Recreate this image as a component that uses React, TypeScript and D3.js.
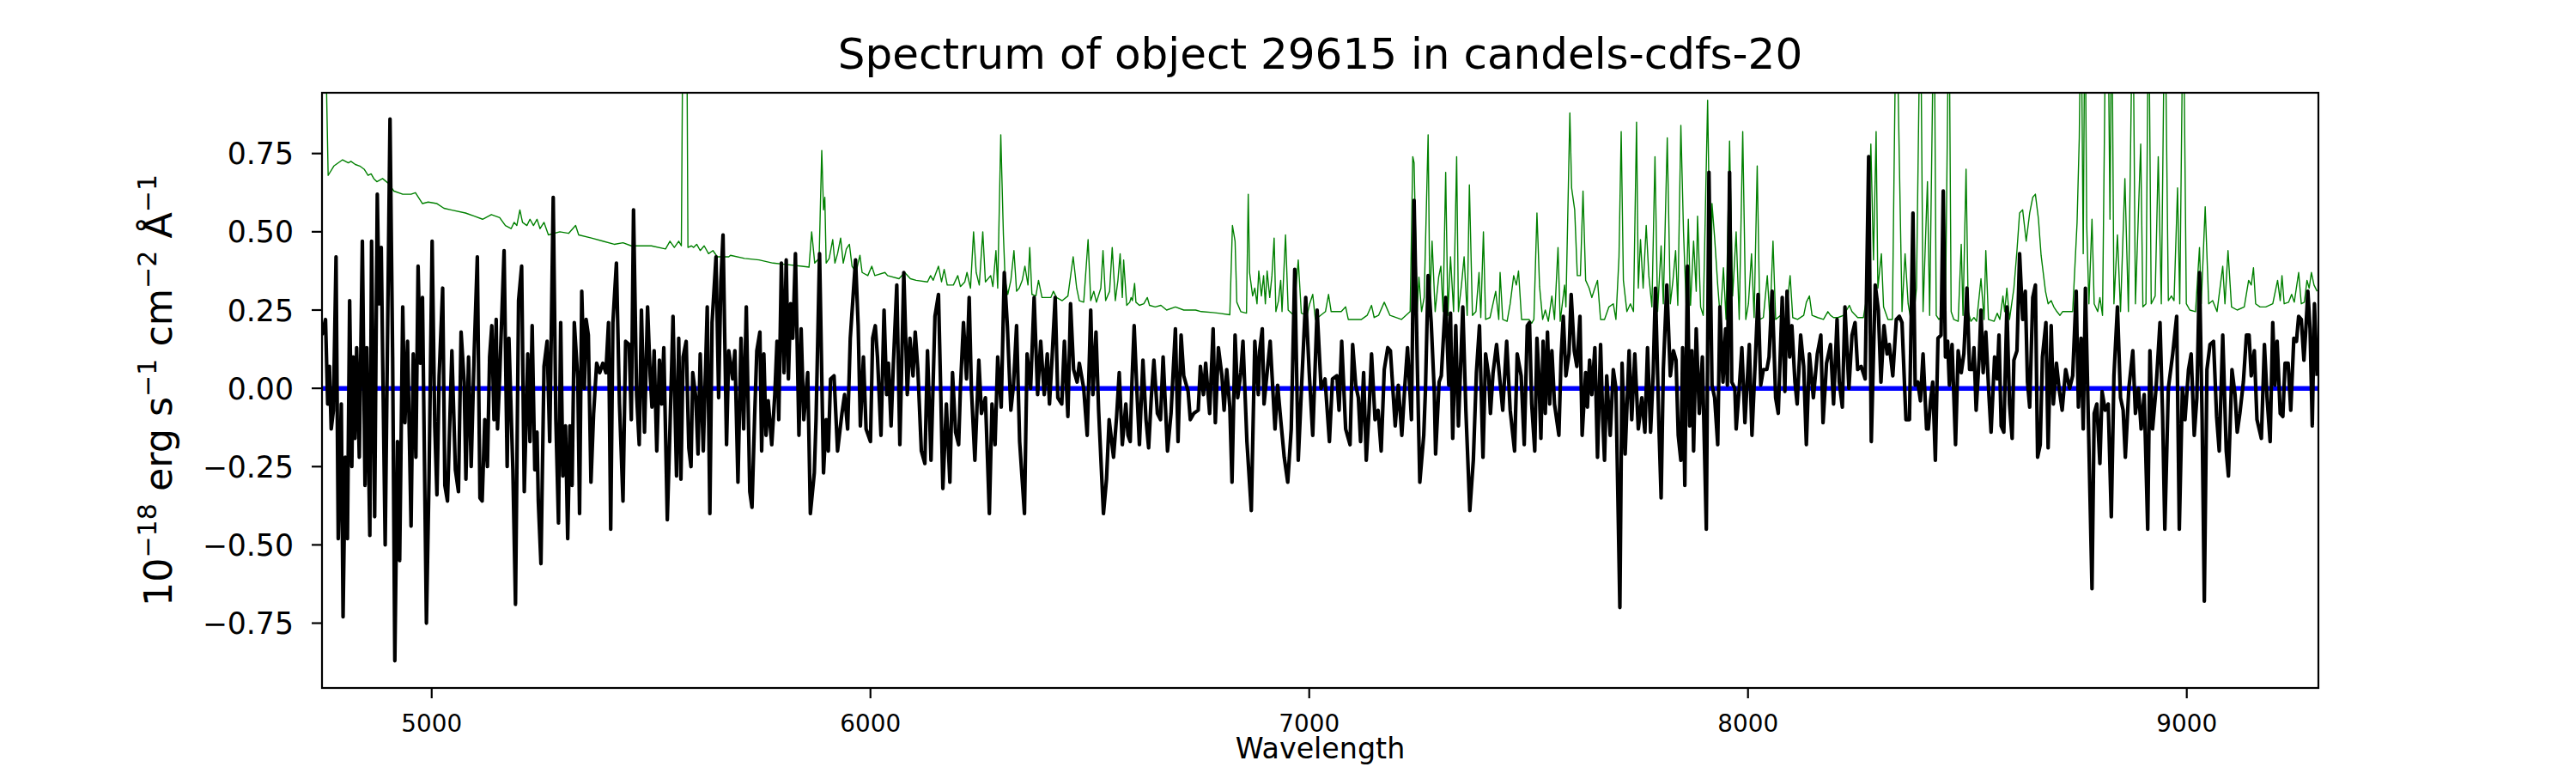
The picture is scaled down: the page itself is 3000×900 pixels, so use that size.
import React from "react";
import * as d3 from "d3";

// Flux spectrum (black) in wavelength chunks
const fluxBlue: [number, number][] = [
  [4750,0.17],[4758,0.22],[4763,-0.05],[4767,0.07],[4771,-0.13],[4776,-0.07],[4782,0.42],[4787,-0.48],[4794,-0.05],[4798,-0.73],
  [4803,-0.22],[4808,-0.48],[4813,0.28],[4818,-0.25],[4821,0.10],[4825,-0.16],[4829,0.13],[4835,-0.22],[4842,0.47],[4848,-0.31],
  [4852,0.13],[4859,-0.47],[4863,0.47],[4870,-0.41],[4876,0.62],[4880,0.27],[4885,0.45],[4889,0.02],[4894,-0.50],[4905,0.86],
  [4911,0.10],[4916,-0.87],[4922,-0.17],[4927,-0.55],[4934,0.26],[4939,-0.11],[4945,0.15],[4953,-0.44],[4958,0.11],[4964,-0.22],
  [4969,0.39],[4974,0.08],[4979,0.29],[4988,-0.75],[4994,-0.28],[5001,0.47],[5007,-0.12],[5012,-0.34],[5017,0.04],[5025,0.32],
  [5030,-0.31],[5036,-0.36],[5046,0.12],[5054,-0.26],[5061,-0.33],[5067,0.18],[5074,0.02],[5078,-0.29],[5084,0.10],[5090,-0.25],
  [5097,0.12],[5104,0.42],[5110,-0.35],[5115,-0.36],[5121,-0.10],[5127,-0.25],[5132,0.10],[5137,0.20],[5142,-0.10],[5147,0.22],
  [5150,-0.13],[5155,0.04],[5165,0.44],[5172,-0.25],[5176,0.16],[5185,-0.26],[5191,-0.69],[5198,0.28],[5205,0.39],[5211,-0.33],
  [5219,0.11],[5224,-0.17],[5229,0.20],[5235,-0.26],[5240,-0.14],[5243,-0.36],[5249,-0.56],[5256,0.07],[5263,0.15],[5269,-0.17],
  [5277,0.61],[5283,-0.10],[5289,-0.43],[5294,0.21],[5299,-0.28],[5305,-0.12],[5310,-0.48],[5315,-0.12],[5320,-0.31],[5325,0.21],
  [5333,0.03],[5337,-0.40],[5342,0.31],[5348,0.00],[5352,0.22],[5357,0.17],[5363,-0.30],[5369,-0.08],[5376,0.08],[5383,0.05],
  [5390,0.08],[5397,0.05],[5403,0.21],[5408,-0.45],[5413,0.21],[5421,0.40],[5428,-0.05],[5436,-0.36],[5442,0.15],[5450,0.14],
  [5455,-0.10],[5460,0.57],[5467,-0.02],[5473,-0.18],[5478,0.25],[5485,-0.14],[5492,0.26],[5498,0.04],[5502,-0.06],[5507,0.12],
  [5513,-0.20],[5519,0.09],[5524,-0.05],[5529,0.13],[5537,-0.42],[5543,-0.13],[5550,0.23],[5558,-0.28],[5563,0.16],[5568,-0.29],
  [5573,0.10],[5580,0.15],[5586,-0.19],[5591,-0.25],[5595,0.05],[5602,-0.03],[5607,-0.21],[5612,0.11],[5619,-0.20],[5628,0.26],
  [5634,-0.40],[5639,0.21],[5648,0.42],[5654,-0.03],[5659,0.34],[5664,0.49],[5672,-0.18],[5677,0.12],
];

const fluxGreen: [number, number][] = [
  [5686,0.03],[5691,0.12],[5698,-0.30],[5705,0.16],[5711,-0.13],[5717,0.26],[5725,-0.33],[5730,-0.38],[5736,-0.09],[5741,0.12],
  [5748,0.18],[5752,-0.20],[5757,0.11],[5762,-0.15],[5767,-0.04],[5775,-0.18],[5782,-0.02],[5787,0.15],[5791,-0.10],[5797,0.40],
  [5803,0.05],[5808,0.41],[5813,0.03],[5818,0.27],[5823,0.16],[5829,0.43],[5837,-0.15],[5842,0.19],[5848,-0.10],[5857,0.05],
  [5863,-0.40],[5872,-0.27],[5876,-0.10],[5884,0.43],[5893,-0.27],[5899,-0.10],[5904,-0.20],[5909,0.03],[5917,0.04],[5925,-0.20],
  [5935,-0.08],[5941,-0.02],[5948,-0.13],[5954,0.16],[5966,0.41],[5972,0.20],[5977,-0.12],[5984,0.10],[5990,-0.13],[6000,-0.17],
  [6005,0.16],[6011,0.20],[6016,0.10],[6024,-0.15],[6031,0.25],[6037,-0.02],[6041,0.08],[6047,-0.12],[6052,0.07],[6060,0.33],
  [6067,-0.18],[6076,0.37],[6084,-0.02],[6090,0.16],[6097,0.04],[6102,0.18],[6108,0.06],[6116,-0.20],[6124,-0.24],[6130,0.12],
  [6138,-0.23],[6147,0.23],[6155,0.30],[6160,0.00],[6165,-0.32],[6173,-0.05],[6181,-0.30],[6187,0.05],[6194,-0.14],[6201,-0.18],
  [6205,0.00],[6212,0.21],[6219,0.03],[6225,0.29],[6230,0.00],[6238,-0.23],[6247,0.09],[6253,-0.08],[6262,-0.03],[6271,-0.40],
  [6277,-0.05],[6284,-0.18],[6290,0.10],[6298,-0.06],[6305,0.37],[6312,0.20],[6320,-0.07],[6326,0.01],[6333,0.20],[6340,-0.17],
  [6351,-0.40],[6357,0.11],[6365,0.00],[6373,0.29],[6381,-0.02],[6388,0.15],[6396,-0.02],[6403,0.11],[6408,-0.05],[6414,0.10],
  [6421,0.29],[6427,-0.03],[6436,-0.05],[6442,0.15],[6450,-0.09],[6456,0.27],[6463,0.06],[6471,0.02],[6476,0.08],[6486,0.00],
  [6494,-0.15],[6502,0.25],[6507,-0.02],[6514,0.18],[6520,-0.07],[6531,-0.40],[6538,-0.29],[6544,-0.10],[6554,-0.22],[6561,-0.09],
  [6567,0.05],[6574,-0.18],[6582,-0.05],[6587,-0.15],
];

const fluxYellow: [number, number][] = [
  [6592,-0.17],[6596,0.02],[6601,0.20],[6607,0.00],[6613,-0.18],[6621,0.09],[6628,-0.10],[6634,-0.19],[6640,-0.03],[6646,0.09],
  [6654,-0.08],[6661,-0.10],[6667,0.10],[6677,-0.20],[6685,-0.08],[6695,0.19],[6701,-0.17],[6708,0.17],[6714,0.04],[6724,-0.01],
  [6729,-0.10],[6737,-0.08],[6747,-0.07],[6752,0.07],[6759,-0.02],[6764,0.08],[6773,-0.08],[6781,0.19],[6786,-0.11],[6793,0.13],
  [6801,0.04],[6806,-0.07],[6812,0.06],[6819,-0.06],[6824,-0.30],[6831,0.17],[6837,-0.03],[6844,0.05],[6849,0.15],[6858,-0.17],
  [6868,-0.39],[6876,0.15],[6884,-0.02],[6887,0.12],[6893,0.19],[6897,-0.05],[6904,0.05],[6911,0.15],[6922,-0.13],[6928,0.01],
  [6935,-0.10],[6943,-0.22],[6951,-0.30],[6959,-0.13],[6967,0.38],[6975,-0.23],[6983,0.02],[6992,0.29],[7000,0.05],[7008,-0.15],
  [7018,0.25],[7027,0.00],[7036,0.03],[7046,-0.17],[7053,0.03],[7063,0.04],[7068,-0.07],[7074,0.15],[7083,-0.13],[7093,-0.18],
  [7099,0.14],[7106,0.01],[7112,-0.03],[7117,-0.17],[7124,0.05],[7130,-0.23],[7136,-0.08],[7142,0.11],[7150,-0.10],[7157,-0.07],
  [7164,-0.20],[7171,0.06],[7179,0.13],[7185,0.12],[7196,-0.12],[7203,0.01],[7211,-0.15],[7218,0.01],[7224,0.13],[7233,-0.10],
  [7239,0.60],[7246,0.10],[7252,-0.30],[7261,-0.15],[7265,0.00],[7271,0.36],[7278,0.21],[7285,-0.01],[7288,-0.21],[7296,0.02],
  [7301,0.04],[7311,0.29],[7318,0.01],[7322,0.24],[7327,-0.16],[7334,0.20],[7340,-0.12],[7350,0.26],[7357,-0.07],[7366,-0.39],
  [7374,-0.23],[7381,0.05],[7388,0.20],[7396,-0.22],[7402,0.11],[7409,0.04],[7413,-0.08],[7419,0.05],[7427,0.14],[7435,0.02],
  [7441,-0.07],[7450,0.15],[7458,-0.07],[7468,-0.20],[7474,0.11],[7483,0.04],[7490,-0.18],[7497,0.20],
];

const fluxRed: [number, number][] = [
  [7502,0.21],[7507,-0.05],[7514,-0.20],[7519,0.16],[7523,0.05],[7528,-0.16],[7533,0.15],[7538,-0.08],[7543,0.18],[7548,-0.05],
  [7553,0.12],[7559,-0.05],[7569,-0.15],[7574,0.10],[7579,0.23],[7585,0.04],[7592,0.11],[7597,0.30],[7604,0.12],[7610,0.07],
  [7617,0.23],[7622,-0.15],[7630,0.05],[7634,-0.06],[7639,0.09],[7644,-0.02],[7651,0.13],[7657,-0.22],[7664,0.14],[7669,-0.10],
  [7673,-0.23],[7678,0.04],[7686,-0.15],[7693,0.06],[7699,0.00],[7708,-0.70],[7713,0.08],[7720,-0.21],[7729,0.12],[7735,-0.10],
  [7742,0.11],[7750,-0.13],[7758,-0.03],[7765,-0.14],[7771,0.13],[7778,-0.14],[7784,0.05],[7789,0.32],[7797,-0.12],[7802,-0.35],
  [7807,0.06],[7815,0.33],[7823,0.04],[7830,0.12],[7836,0.09],[7841,-0.15],[7847,-0.23],[7851,0.13],[7856,-0.31],[7862,0.39],
  [7867,-0.12],[7872,0.12],[7876,-0.20],[7882,0.19],[7889,-0.08],[7896,0.10],[7905,-0.45],[7911,0.69],[7918,0.01],[7924,-0.03],
  [7931,-0.18],[7936,0.26],[7943,0.02],[7949,0.19],[7953,0.01],[7958,0.69],[7963,0.02],[7970,0.00],[7973,-0.13],[7980,0.00],
  [7986,0.13],[7993,-0.11],[8003,0.14],[8009,-0.15],[8016,0.07],[8023,0.30],[8029,0.01],[8035,0.06],[8043,0.06],[8048,0.10],
  [8055,0.31],[8063,-0.03],[8069,-0.08],[8078,0.29],[8084,-0.01],[8089,0.31],[8095,0.10],[8100,0.20],[8107,0.02],[8112,-0.05],
  [8120,0.17],[8127,0.07],[8133,-0.18],[8140,0.11],[8149,-0.03],[8158,0.11],[8166,0.17],[8171,-0.11],[8179,0.08],[8188,0.14],
  [8195,-0.05],[8203,0.22],[8208,0.02],[8215,-0.06],[8221,0.26],[8230,0.00],[8237,0.17],[8244,0.21],[8250,0.06],[8258,0.07],
  [8267,0.03],[8275,0.74],[8281,-0.17],[8290,0.33],[8297,0.25],[8303,0.02],[8310,0.20],[8317,0.11],[8322,0.14],[8330,0.04],
  [8338,0.22],[8345,0.23],[8351,0.21],[8360,-0.10],[8368,-0.10],[8376,0.56],[8381,0.01],[8387,0.02],[8393,-0.04],[8399,0.11],
  [8407,-0.13],
];

const fluxInfrared: [number, number][] = [
  [8411,-0.13],[8416,-0.04],[8421,0.02],[8427,-0.23],[8433,0.16],[8440,0.17],[8445,0.63],[8450,0.10],[8455,0.15],[8459,0.01],
  [8465,0.14],[8473,-0.18],[8479,0.12],[8486,0.05],[8492,0.11],[8499,0.32],[8505,0.06],[8512,0.06],[8515,0.13],[8520,-0.07],
  [8527,0.10],[8531,0.25],[8536,0.05],[8542,0.18],[8549,-0.02],[8554,-0.14],[8562,0.10],[8568,0.03],[8572,0.17],[8577,-0.12],
  [8583,-0.14],[8590,0.26],[8596,-0.05],[8602,-0.16],[8606,0.09],[8613,0.12],[8619,0.43],[8626,0.22],[8632,0.31],[8637,0.02],
  [8642,-0.06],[8649,0.29],[8655,0.33],[8660,-0.22],[8666,-0.18],[8671,0.10],[8679,0.21],[8684,-0.19],[8691,0.20],[8696,-0.05],
  [8703,0.08],[8709,0.00],[8716,-0.07],[8724,0.06],[8733,0.00],[8740,0.04],[8748,0.31],[8753,-0.06],[8759,0.16],[8764,-0.13],
  [8769,0.32],[8776,-0.12],[8784,-0.64],[8789,-0.08],[8795,-0.05],[8802,-0.24],[8807,-0.01],[8814,-0.07],[8821,-0.05],[8828,-0.41],
  [8834,0.04],[8842,0.26],[8849,-0.03],[8855,-0.07],[8860,-0.22],[8868,0.00],[8877,0.12],[8883,-0.08],[8890,0.00],[8896,-0.13],
  [8903,-0.02],[8911,-0.45],[8916,0.12],[8922,-0.13],[8930,0.00],[8939,0.21],[8945,-0.09],[8950,-0.45],[8958,0.00],[8968,0.11],
  [8977,0.23],[8983,-0.45],[8990,0.00],[8996,-0.10],[9004,0.06],[9010,0.11],[9017,-0.15],[9023,-0.03],[9029,0.37],[9035,-0.10],
  [9040,-0.68],[9046,0.06],[9053,0.14],[9061,0.15],[9068,-0.09],[9074,-0.20],[9082,0.17],[9090,-0.20],[9095,-0.28],[9103,0.06],
  [9110,-0.02],[9115,-0.14],[9121,-0.08],[9129,0.02],[9136,0.17],[9142,0.17],[9147,0.04],[9154,0.12],[9160,-0.10],[9170,-0.16],
  [9177,0.14],[9183,-0.03],[9190,-0.17],[9196,0.21],[9201,0.01],[9206,0.15],[9213,-0.08],[9219,-0.09],[9224,0.08],[9231,0.08],
  [9237,-0.07],[9244,0.16],[9250,0.15],[9255,0.23],[9261,0.22],[9267,0.09],[9271,0.18],[9276,0.31],[9281,0.19],[9286,-0.12],
  [9291,0.27],[9297,0.04],
];

// Noise / sky spectrum (green)
const noiseBlue: [number, number][] = [
  [4750,1.2],[4760,0.98],[4764,0.68],[4777,0.71],[4797,0.73],[4810,0.72],[4816,0.725],[4826,0.715],[4836,0.71],[4846,0.70],
  [4855,0.68],[4862,0.685],[4868,0.67],[4875,0.66],[4888,0.67],[4901,0.655],[4914,0.63],[4934,0.62],[4953,0.62],[4963,0.625],
  [4979,0.59],[4992,0.595],[5012,0.59],[5028,0.575],[5044,0.57],[5077,0.56],[5097,0.55],[5116,0.54],[5136,0.555],[5155,0.545],
  [5168,0.52],[5181,0.51],[5188,0.53],[5194,0.52],[5201,0.57],[5207,0.53],[5217,0.52],[5224,0.54],[5232,0.52],[5240,0.54],
  [5247,0.51],[5256,0.53],[5266,0.49],[5292,0.50],[5312,0.495],[5328,0.52],[5335,0.49],[5364,0.48],[5390,0.47],[5416,0.46],
  [5436,0.465],[5455,0.455],[5481,0.455],[5501,0.455],[5533,0.445],[5543,0.47],[5553,0.45],[5563,0.47],[5569,0.455],[5573,1.3],
  [5581,1.3],[5584,0.45],[5592,0.455],[5597,0.45],[5604,0.46],[5612,0.44],[5621,0.455],[5631,0.43],[5641,0.44],[5651,0.42],
  [5677,0.42],
];

const noiseGreen: [number, number][] = [
  [5681,0.425],[5713,0.415],[5746,0.41],[5778,0.40],[5811,0.395],[5844,0.39],[5860,0.387],[5866,0.50],[5873,0.40],[5883,0.415],
  [5889,0.76],[5893,0.57],[5896,0.61],[5899,0.40],[5906,0.415],[5914,0.475],[5919,0.40],[5925,0.43],[5932,0.48],[5938,0.40],
  [5945,0.445],[5952,0.46],[5958,0.39],[5967,0.37],[5976,0.425],[5981,0.37],[5994,0.36],[6003,0.39],[6010,0.36],[6033,0.37],
  [6039,0.36],[6065,0.35],[6078,0.37],[6091,0.35],[6104,0.345],[6130,0.34],[6137,0.36],[6143,0.345],[6155,0.39],[6162,0.34],
  [6168,0.38],[6175,0.33],[6189,0.33],[6199,0.36],[6205,0.325],[6215,0.34],[6220,0.37],[6228,0.32],[6235,0.50],[6241,0.37],
  [6248,0.33],[6256,0.50],[6262,0.34],[6274,0.36],[6279,0.325],[6286,0.44],[6290,0.32],[6297,0.81],[6303,0.49],[6307,0.345],
  [6313,0.30],[6320,0.345],[6327,0.44],[6333,0.31],[6339,0.32],[6346,0.345],[6352,0.39],[6359,0.33],[6363,0.45],[6368,0.30],
  [6377,0.295],[6383,0.345],[6391,0.29],[6411,0.29],[6417,0.31],[6424,0.29],[6437,0.28],[6450,0.295],[6462,0.42],[6470,0.32],
  [6476,0.28],[6486,0.275],[6496,0.475],[6502,0.28],[6509,0.31],[6515,0.275],[6525,0.32],[6530,0.44],[6536,0.28],[6545,0.31],
  [6551,0.45],[6558,0.28],[6564,0.345],[6569,0.43],[6574,0.29],[6577,0.41],[6584,0.265],
];

const noiseYellow: [number, number][] = [
  [6591,0.275],[6594,0.29],[6597,0.28],[6602,0.335],[6605,0.275],[6613,0.265],[6623,0.27],[6631,0.29],[6636,0.265],[6649,0.26],
  [6662,0.265],[6675,0.25],[6695,0.26],[6714,0.25],[6741,0.25],[6754,0.245],[6780,0.242],[6793,0.24],[6819,0.235],[6825,0.52],
  [6831,0.47],[6835,0.275],[6844,0.245],[6857,0.24],[6861,0.62],[6864,0.37],[6871,0.295],[6876,0.32],[6881,0.27],[6885,0.375],
  [6891,0.295],[6896,0.36],[6900,0.27],[6904,0.375],[6910,0.29],[6915,0.36],[6920,0.48],[6924,0.245],[6930,0.28],[6935,0.345],
  [6938,0.245],[6946,0.49],[6952,0.25],[6965,0.233],[6975,0.41],[6982,0.24],[6995,0.233],[7001,0.27],[7008,0.30],[7014,0.22],
  [7037,0.245],[7044,0.30],[7050,0.245],[7073,0.245],[7083,0.26],[7089,0.22],[7119,0.22],[7132,0.233],[7142,0.265],[7148,0.226],
  [7158,0.233],[7171,0.275],[7184,0.233],[7210,0.22],[7230,0.245],[7236,0.74],[7239,0.72],[7246,0.245],[7250,0.355],[7256,0.245],
  [7262,0.29],[7271,0.81],[7275,0.27],[7280,0.47],[7287,0.245],[7295,0.355],[7300,0.39],[7305,0.245],[7311,0.69],[7316,0.233],
  [7322,0.42],[7329,0.245],[7336,0.74],[7340,0.245],[7347,0.33],[7353,0.42],[7360,0.233],[7365,0.65],[7372,0.233],[7380,0.245],
  [7387,0.37],[7391,0.226],[7397,0.50],[7402,0.22],[7412,0.226],[7425,0.31],[7432,0.22],[7435,0.37],[7441,0.22],[7451,0.214],
  [7458,0.27],[7466,0.36],[7472,0.33],[7477,0.375],[7484,0.22],[7497,0.22],
];

const noiseRed: [number, number][] = [
  [7501,0.22],[7507,0.208],[7512,0.22],[7519,0.56],[7525,0.325],[7532,0.22],[7538,0.25],[7545,0.214],[7553,0.295],[7559,0.22],
  [7567,0.45],[7572,0.214],[7582,0.33],[7585,0.26],[7594,0.88],[7598,0.64],[7605,0.57],[7611,0.36],[7618,0.36],[7624,0.63],
  [7630,0.345],[7638,0.32],[7644,0.29],[7651,0.32],[7657,0.345],[7664,0.22],[7673,0.22],[7683,0.26],[7693,0.27],[7699,0.22],
  [7706,0.42],[7711,0.82],[7716,0.345],[7724,0.245],[7732,0.27],[7739,0.245],[7746,0.85],[7750,0.32],[7755,0.475],[7761,0.32],
  [7768,0.52],[7774,0.36],[7781,0.26],[7788,0.74],[7794,0.245],[7802,0.455],[7807,0.27],[7816,0.80],[7823,0.27],[7829,0.345],
  [7835,0.44],[7840,0.265],[7847,0.84],[7853,0.50],[7859,0.27],[7864,0.54],[7869,0.265],[7876,0.47],[7882,0.31],[7885,0.55],
  [7892,0.26],[7898,0.233],[7908,0.92],[7915,0.26],[7918,0.59],[7924,0.48],[7931,0.33],[7937,0.22],[7944,0.385],[7950,0.22],
  [7958,0.79],[7965,0.295],[7973,0.50],[7980,0.22],[7988,0.82],[7995,0.22],[8001,0.27],[8008,0.43],[8014,0.226],[8021,0.71],
  [8027,0.22],[8035,0.226],[8044,0.36],[8050,0.22],[8057,0.47],[8063,0.22],[8074,0.233],[8086,0.22],[8096,0.36],[8102,0.226],
  [8113,0.22],[8127,0.233],[8133,0.275],[8140,0.295],[8146,0.233],[8159,0.226],[8172,0.22],[8182,0.245],[8188,0.233],[8195,0.226],
  [8205,0.226],[8218,0.233],[8231,0.265],[8237,0.245],[8250,0.226],[8263,0.226],[8271,0.295],[8280,0.78],[8286,0.41],[8292,0.82],
  [8296,0.32],[8304,0.43],[8309,0.26],[8319,0.22],[8329,0.22],[8338,1.3],[8345,0.72],[8351,0.245],[8358,0.43],[8365,0.27],
  [8371,0.22],[8378,0.233],[8384,0.32],[8393,1.3],[8399,0.245],
];

const noiseInfrared: [number, number][] = [
  [8409,0.66],[8414,0.233],[8424,1.3],[8429,0.233],[8435,0.22],[8443,0.233],[8450,0.245],[8458,1.3],[8463,0.245],[8469,0.22],
  [8479,0.214],[8486,0.46],[8490,0.233],[8497,0.70],[8502,0.245],[8508,0.214],[8515,0.226],[8521,0.214],[8531,0.35],[8538,0.22],
  [8542,0.44],[8548,0.22],[8561,0.214],[8568,0.24],[8574,0.22],[8581,0.295],[8585,0.245],[8590,0.32],[8596,0.22],[8606,0.32],
  [8613,0.44],[8619,0.56],[8626,0.57],[8634,0.47],[8642,0.56],[8649,0.61],[8655,0.62],[8662,0.54],[8668,0.425],[8678,0.31],
  [8684,0.27],[8691,0.28],[8697,0.26],[8704,0.245],[8711,0.233],[8717,0.245],[8727,0.245],[8740,0.245],[8750,0.53],[8755,0.80],
  [8759,1.3],[8764,0.43],[8768,1.3],[8772,0.52],[8777,0.27],[8784,0.54],[8789,0.27],[8797,0.245],[8802,0.29],[8808,0.233],
  [8816,1.3],[8820,1.3],[8825,0.54],[8829,1.3],[8834,0.27],[8842,0.49],[8849,0.245],[8859,0.67],[8867,0.245],[8877,1.3],
  [8883,0.27],[8895,0.78],[8900,0.26],[8907,0.27],[8913,1.3],[8919,0.27],[8928,0.295],[8935,0.74],[8942,0.27],[8950,1.3],
  [8958,0.28],[8965,0.295],[8971,0.28],[8979,0.64],[8984,0.27],[8992,1.3],[8999,0.27],[9007,0.25],[9020,0.245],[9029,0.45],
  [9033,0.27],[9042,0.58],[9050,0.27],[9059,0.28],[9069,0.245],[9082,0.39],[9087,0.27],[9094,0.44],[9102,0.26],[9115,0.25],
  [9131,0.26],[9141,0.345],[9147,0.33],[9152,0.385],[9157,0.27],[9167,0.26],[9180,0.26],[9196,0.27],[9207,0.345],[9213,0.28],
  [9217,0.36],[9222,0.27],[9232,0.275],[9239,0.30],[9245,0.275],[9255,0.37],[9261,0.27],[9268,0.275],[9274,0.345],[9279,0.32],
  [9284,0.37],[9290,0.33],[9297,0.31],
];

const xTicks = [5000, 6000, 7000, 8000, 9000];
const yTicks = [-0.75, -0.5, -0.25, 0, 0.25, 0.5, 0.75];
const xDomain: [number, number] = [4750, 9300];
const yDomain: [number, number] = [-0.957, 0.944];

const titleText = "Spectrum of object 29615 in candels-cdfs-20";
const xLabelText = "Wavelength";

const W = 3000;
const H = 900;
const plot = { left: 375, right: 2700, top: 108, bottom: 801 };
const font = "'DejaVu Sans', sans-serif";

export default function App() {
  const x = d3.scaleLinear().domain(xDomain).range([plot.left, plot.right]);
  const y = d3.scaleLinear().domain(yDomain).range([plot.bottom, plot.top]);

  const line = d3
    .line<[number, number]>()
    .x((d) => x(d[0]))
    .y((d) => y(d[1]));

  const flux = [...fluxBlue, ...fluxGreen, ...fluxYellow, ...fluxRed, ...fluxInfrared];
  const noise = [...noiseBlue, ...noiseGreen, ...noiseYellow, ...noiseRed, ...noiseInfrared];

  const fmtY = (v: number) => (v < 0 ? "\u2212" : "") + Math.abs(v).toFixed(2);
  const tickLen = 12;
  const midX = (plot.left + plot.right) / 2;
  const midY = (plot.top + plot.bottom) / 2;

  return (
    <svg
      width={W}
      height={H}
      viewBox={`0 0 ${W} ${H}`}
      style={{ position: "absolute", left: 0, top: 0, background: "#fff" }}
      fontFamily={font}
    >
      <defs>
        <clipPath id="plot-clip">
          <rect x={plot.left} y={plot.top} width={plot.right - plot.left} height={plot.bottom - plot.top} />
        </clipPath>
      </defs>

      <rect x={0} y={0} width={W} height={H} fill="#fff" />

      <g clipPath="url(#plot-clip)">
        <path d={line(noise) ?? ""} fill="none" stroke="#008000" strokeWidth={1.4} strokeLinejoin="round" />
        <line x1={plot.left} x2={plot.right} y1={y(0)} y2={y(0)} stroke="#0000ff" strokeWidth={5.5} />
        <path d={line(flux) ?? ""} fill="none" stroke="#000" strokeWidth={4.2} strokeLinejoin="round" />
      </g>

      {/* frame */}
      <rect
        x={plot.left}
        y={plot.top}
        width={plot.right - plot.left}
        height={plot.bottom - plot.top}
        fill="none"
        stroke="#000"
        strokeWidth={2.2}
      />

      {/* x axis */}
      {xTicks.map((t) => (
        <g key={`x${t}`}>
          <line x1={x(t)} x2={x(t)} y1={plot.bottom} y2={plot.bottom + tickLen} stroke="#000" strokeWidth={2.2} />
          <text x={x(t)} y={852} textAnchor="middle" fontSize={27.8} fill="#000">
            {t}
          </text>
        </g>
      ))}

      {/* y axis */}
      {yTicks.map((t) => (
        <g key={`y${t}`}>
          <line x1={plot.left - tickLen} x2={plot.left} y1={y(t)} y2={y(t)} stroke="#000" strokeWidth={2.2} />
          <text x={342} y={y(t) + 12.6} textAnchor="end" fontSize={34.7} fill="#000">
            {fmtY(t)}
          </text>
        </g>
      ))}

      <text x={midX} y={883} textAnchor="middle" fontSize={33.3} fill="#000">
        {xLabelText}
      </text>

      <text x={midX} y={80} textAnchor="middle" fontSize={50} fill="#000">
        {titleText}
      </text>

      <text
        transform={`translate(200, ${midY}) rotate(-90)`}
        textAnchor="middle"
        fontSize={44.4}
        fill="#000"
        style={{ whiteSpace: "pre" }}
      >
        <tspan>10</tspan>
        <tspan fontSize={30} dy={-18}>{"\u221218"}</tspan>
        <tspan dy={18}>{" erg s"}</tspan>
        <tspan fontSize={30} dy={-18}>{"\u22121"}</tspan>
        <tspan dy={18}>{" cm"}</tspan>
        <tspan fontSize={30} dy={-18}>{"\u22122"}</tspan>
        <tspan dy={18}>{" \u00c5"}</tspan>
        <tspan fontSize={30} dy={-18}>{"\u22121"}</tspan>
      </text>
    </svg>
  );
}
